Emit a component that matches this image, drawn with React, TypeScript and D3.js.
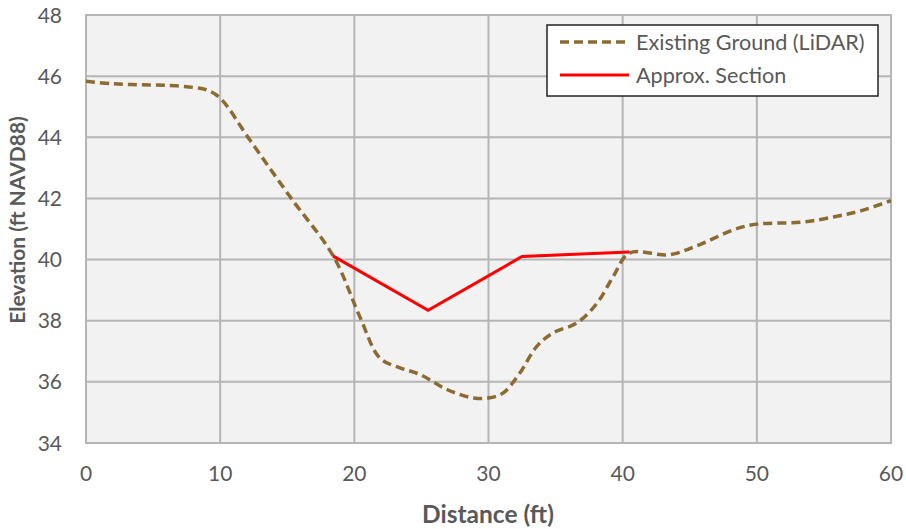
import React from "react";
import * as d3 from "d3";

const groundDist = [0, 2, 4, 6, 8, 9, 10, 12.2, 15.2, 18.45, 20.4, 21.9, 23.4, 24.9, 26.9, 28.9, 30.1, 31.1, 32.35, 33.6, 34.8, 36.6, 38.1, 39.3, 40.5, 43.5, 45.8, 48.3, 50, 53.3, 55.8, 57.8, 60];
const groundElev = [45.83, 45.75, 45.72, 45.7, 45.63, 45.55, 45.28, 43.92, 42.06, 40.1, 38.14, 36.78, 36.46, 36.24, 35.75, 35.47, 35.48, 35.64, 36.3, 37.16, 37.6, 37.93, 38.58, 39.45, 40.21, 40.16, 40.5, 40.98, 41.16, 41.22, 41.4, 41.6, 41.93];

const sectionDist = [18.4, 25.5, 32.5, 40.5];
const sectionElev = [40.12, 38.34, 40.1, 40.25];

const xTicks = [0, 10, 20, 30, 40, 50, 60];
const yTicks = [34, 36, 38, 40, 42, 44, 46, 48];

const seriesNames = ["Existing Ground (LiDAR)", "Approx. Section"];

const W = 906;
const H = 529;
const FONT = "Lato, 'Open Sans', sans-serif";
const TEXT = "#595959";
const GRID = "#b5b5b5";

export default function App() {
  const x = d3.scaleLinear().domain([0, 60]).range([86, 891]);
  const y = d3.scaleLinear().domain([34, 48]).range([443, 15]);

  const ground = groundDist.map((d, i) => [d, groundElev[i]] as [number, number]);
  const section = sectionDist.map((d, i) => [d, sectionElev[i]] as [number, number]);

  const smooth = d3
    .line<[number, number]>()
    .x((d) => x(d[0]))
    .y((d) => y(d[1]))
    .curve(d3.curveCatmullRom.alpha(0.5));
  const straight = d3
    .line<[number, number]>()
    .x((d) => x(d[0]))
    .y((d) => y(d[1]));

  const [x0, x1] = x.range();
  const [y0, y1] = y.range();

  return (
    <svg
      width={W}
      height={H}
      style={{ position: "absolute", left: 0, top: 0, background: "#fff" }}
      fontFamily={FONT}
    >
      <rect x={x0} y={y1} width={x1 - x0} height={y0 - y1} fill="#f2f2f2" />
      {xTicks.map((t) => (
        <line key={"gx" + t} x1={x(t)} x2={x(t)} y1={y1} y2={y0} stroke={GRID} strokeWidth={2} />
      ))}
      {yTicks.map((t) => (
        <line key={"gy" + t} x1={x0} x2={x1} y1={y(t)} y2={y(t)} stroke={GRID} strokeWidth={2} />
      ))}
      <rect x={x0} y={y1} width={x1 - x0} height={y0 - y1} fill="none" stroke={GRID} strokeWidth={2} />

      {yTicks.map((t) => (
        <text key={"ty" + t} x={62} y={y(t)} dy="0.36em" textAnchor="end" fontSize={21} fill={TEXT}>
          {t}
        </text>
      ))}
      {xTicks.map((t) => (
        <text key={"tx" + t} x={x(t)} y={481} textAnchor="middle" fontSize={21} fill={TEXT}>
          {t}
        </text>
      ))}

      <text x={488} y={523} textAnchor="middle" fontSize={24.5} fontWeight="bold" fill={TEXT}>
        Distance (ft)
      </text>
      <text
        transform="translate(25,220) rotate(-90)"
        textAnchor="middle"
        fontSize={21}
        fontWeight="bold"
        fill={TEXT}
      >
        Elevation (ft NAVD88)
      </text>

      <path d={smooth(ground) || ""} fill="none" stroke="#8c6b32" strokeWidth={3.5} strokeDasharray="9 5" />
      <path d={straight(section) || ""} fill="none" stroke="#ff0000" strokeWidth={3} strokeLinejoin="miter" />

      <g>
        <rect x={547} y={25} width={331} height={71} fill="#fff" stroke="#222" strokeWidth={1.5} />
        <line x1={560} x2={629} y1={42} y2={42} stroke="#8c6b32" strokeWidth={3.5} strokeDasharray="9 5" />
        <text x={636} y={42} dy="0.36em" fontSize={21.6} fill={TEXT}>
          {seriesNames[0]}
        </text>
        <line x1={560} x2={629} y1={75} y2={75} stroke="#ff0000" strokeWidth={3} />
        <text x={636} y={75} dy="0.36em" fontSize={21.6} fill={TEXT}>
          {seriesNames[1]}
        </text>
      </g>
    </svg>
  );
}
